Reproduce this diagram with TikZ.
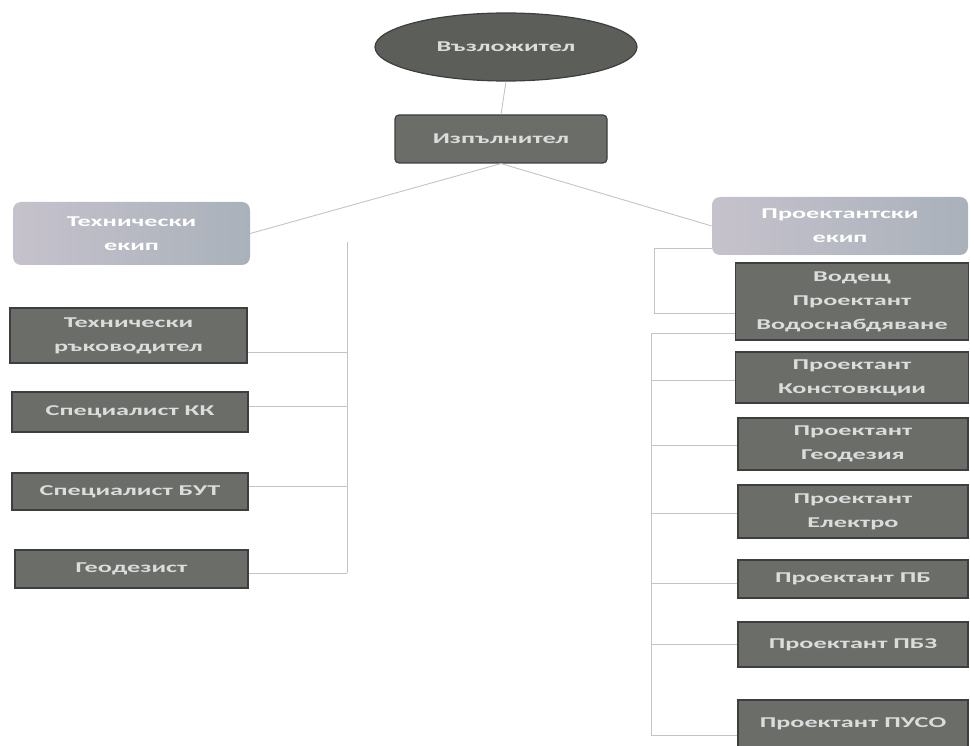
\documentclass[tikz,border=0pt]{standalone}
\usepackage{fontspec}
\setmainfont{Carlito}
\newfontfamily\boxfont[FakeStretch=1.75,UprightFont=* Bold]{Carlito}
\usetikzlibrary{shapes.geometric}
\definecolor{boxfill}{HTML}{6B6D69}
\definecolor{boxdraw}{HTML}{3E3E3E}
\definecolor{boxtext}{HTML}{DCDCDC}
\definecolor{teamL}{HTML}{C6C2CC}
\definecolor{teamR}{HTML}{A9B1BA}
\definecolor{linecol}{HTML}{C4C4C4}
\tikzset{
  dbox/.style={rectangle, draw=boxdraw, line width=1.2pt, fill=boxfill, text=boxtext,
    font=\boxfont\fontsize{15}{24}\selectfont, align=center, inner sep=0pt},
  tbox/.style={rectangle, rounded corners=8pt, draw=none, left color=teamL, right color=teamR,
    text=white, font=\boxfont\fontsize{15}{24}\selectfont, align=center, inner sep=0pt},
  conn/.style={draw=linecol, line width=0.9pt},
}
\begin{document}
\begin{tikzpicture}[x=1pt,y=-1pt]
\useasboundingbox (0,0) rectangle (970,746);
% top
\node[ellipse, draw=boxdraw, line width=1.2pt, fill=boxfill!110, text=boxtext,
  font=\boxfont\fontsize{15}{24}\selectfont, minimum width=262pt, minimum height=68pt, inner sep=0pt]
  (ell) at (506,47) {Възложител};
\node[dbox, rounded corners=4pt, minimum width=212pt, minimum height=48pt] (izp) at (501,139) {Изпълнител};
% teams
\node[tbox, minimum width=237pt, minimum height=63pt] (tekip) at (131.5,233.5) {Технически\\екип};
\node[tbox, minimum width=256pt, minimum height=58pt] (pekip) at (840,226) {Проектантски\\екип};
% left column
\node[dbox, minimum width=237pt, minimum height=55pt] (tr) at (128.5,335.5) {Технически\\ръководител};
\node[dbox, minimum width=236pt, minimum height=40pt] (kk) at (130,412) {Специалист КК};
\node[dbox, minimum width=236pt, minimum height=37pt] (but) at (130,491.5) {Специалист БУТ};
\node[dbox, minimum width=233pt, minimum height=38pt] (geo) at (131.5,569) {Геодезист};
% right column
\node[dbox, minimum width=233pt, minimum height=77pt] (vod) at (852,301.5) {Водещ\\Проектант\\Водоснабдяване};
\node[dbox, minimum width=233pt, minimum height=51pt] (kon) at (852,377.5) {Проектант\\Констовкции};
\node[dbox, minimum width=230pt, minimum height=52pt] (pgeo) at (853,444) {Проектант\\Геодезия};
\node[dbox, minimum width=230pt, minimum height=53pt] (el) at (853,511.5) {Проектант\\Електро};
\node[dbox, minimum width=230pt, minimum height=38pt] (pb) at (853,579) {Проектант ПБ};
\node[dbox, minimum width=230pt, minimum height=45pt] (pbz) at (853,644.5) {Проектант ПБЗ};
\node[dbox, minimum width=230pt, minimum height=48pt] (puso) at (853,724) {Проектант ПУСО};
% connectors top
\draw[conn] (ell.south) -- (izp.north);
\draw[conn] (izp.south) -- (tekip.east);
\draw[conn] (izp.south) -- (pekip.west);
% left bracket
\coordinate (lt) at (347,242);
\coordinate (ltr) at (347,352);
\coordinate (lkk) at (347,406);
\coordinate (lbut) at (347,486);
\coordinate (lgeo) at (347,573);
\draw[conn] (lt) -- (lgeo);
\draw[conn] (tr.east |- ltr) -- (ltr);
\draw[conn] (kk.east |- lkk) -- (lkk);
\draw[conn] (but.east |- lbut) -- (lbut);
\draw[conn] (geo.east |- lgeo) -- (lgeo);
% right bracket 1
\coordinate (r1a) at (654,248);
\coordinate (r1b) at (654,313);
\draw[conn] (pekip.west |- r1a) -- (r1a) -- (r1b) -- (vod.west |- r1b);
% right bracket 2
\coordinate (r2a) at (651,333);
\coordinate (r2b) at (651,735);
\draw[conn] (vod.west |- r2a) -- (r2a) -- (r2b) -- (puso.west |- r2b);
\coordinate (rkon) at (651,380);
\coordinate (rgeo) at (651,445);
\coordinate (rel) at (651,513);
\coordinate (rpb) at (651,583);
\coordinate (rpbz) at (651,644);
\draw[conn] (rkon) -- (kon.west |- rkon);
\draw[conn] (rgeo) -- (pgeo.west |- rgeo);
\draw[conn] (rel) -- (el.west |- rel);
\draw[conn] (rpb) -- (pb.west |- rpb);
\draw[conn] (rpbz) -- (pbz.west |- rpbz);
\end{tikzpicture}
\end{document}
